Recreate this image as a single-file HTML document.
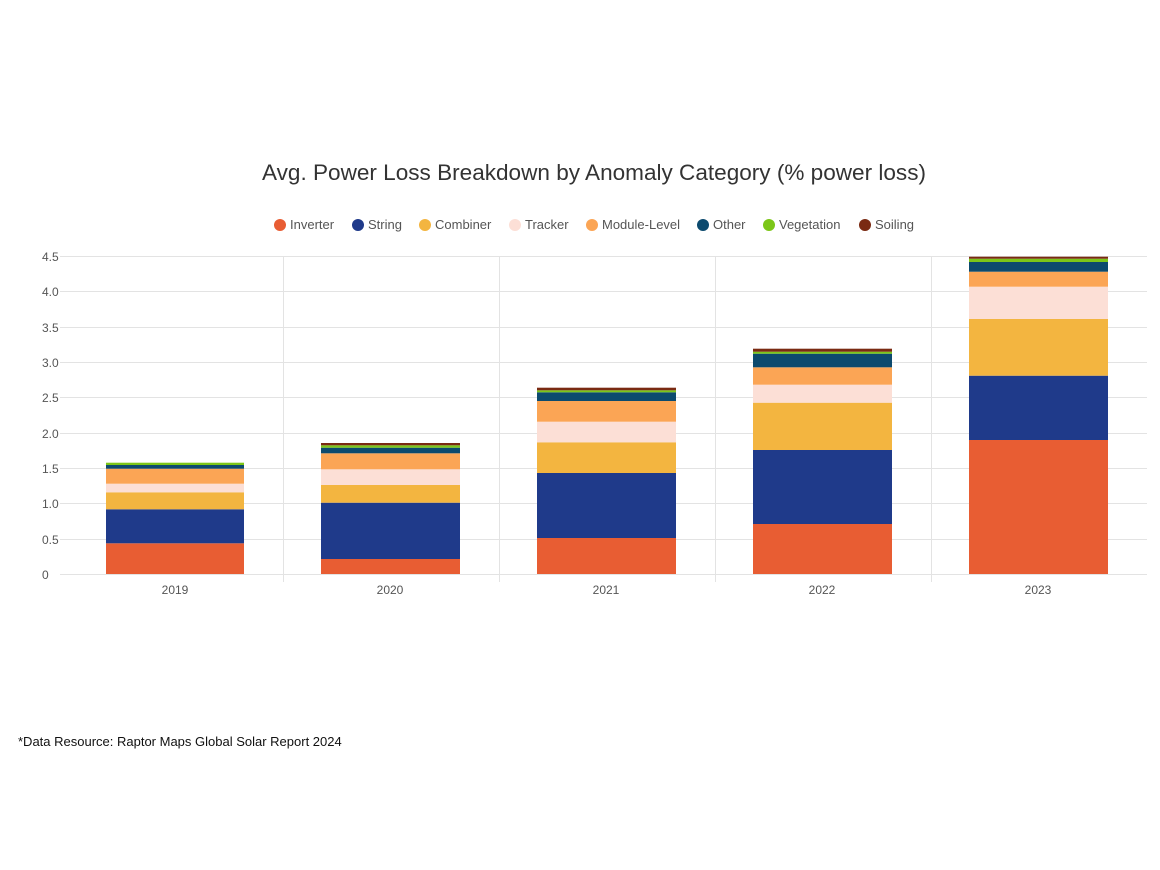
<!DOCTYPE html>
<html><head><meta charset="utf-8"><style>
html,body{margin:0;padding:0;background:#fff;}
svg{display:block;font-family:"Liberation Sans",sans-serif;}
</style></head><body>
<svg width="1160" height="870" viewBox="0 0 1160 870">
<rect width="1160" height="870" fill="#fff"/>
<text x="262" y="180" font-size="22" fill="#333" textLength="664" lengthAdjust="spacingAndGlyphs">Avg. Power Loss Breakdown by Anomaly Category (% power loss)</text>
<g font-size="13" fill="#555">
<circle cx="280" cy="225" r="6" fill="#e85d33"/><text x="290" y="229">Inverter</text>
<circle cx="358" cy="225" r="6" fill="#1f3a8a"/><text x="368" y="229">String</text>
<circle cx="425" cy="225" r="6" fill="#f3b540"/><text x="435" y="229">Combiner</text>
<circle cx="515" cy="225" r="6" fill="#fcdfd6"/><text x="525" y="229">Tracker</text>
<circle cx="592" cy="225" r="6" fill="#fba555"/><text x="602" y="229">Module-Level</text>
<circle cx="703" cy="225" r="6" fill="#0c4a6e"/><text x="713" y="229">Other</text>
<circle cx="769" cy="225" r="6" fill="#7cc618"/><text x="779" y="229">Vegetation</text>
<circle cx="865" cy="225" r="6" fill="#7a2a12"/><text x="875" y="229">Soiling</text>
</g>
<g stroke="#e3e3e3" stroke-width="1">
<line x1="60" y1="256.5" x2="1147" y2="256.5"/>
<line x1="60" y1="291.5" x2="1147" y2="291.5"/>
<line x1="60" y1="327.5" x2="1147" y2="327.5"/>
<line x1="60" y1="362.5" x2="1147" y2="362.5"/>
<line x1="60" y1="397.5" x2="1147" y2="397.5"/>
<line x1="60" y1="433.5" x2="1147" y2="433.5"/>
<line x1="60" y1="468.5" x2="1147" y2="468.5"/>
<line x1="60" y1="503.5" x2="1147" y2="503.5"/>
<line x1="60" y1="539.5" x2="1147" y2="539.5"/>
<line x1="60" y1="574.5" x2="1147" y2="574.5"/>
<line x1="283.5" y1="256" x2="283.5" y2="582"/>
<line x1="499.5" y1="256" x2="499.5" y2="582"/>
<line x1="715.5" y1="256" x2="715.5" y2="582"/>
<line x1="931.5" y1="256" x2="931.5" y2="582"/>
</g>
<g font-size="12" fill="#555">
<text x="42" y="261">4.5</text><text x="42" y="296">4.0</text><text x="42" y="332">3.5</text>
<text x="42" y="367">3.0</text><text x="42" y="402">2.5</text><text x="42" y="438">2.0</text>
<text x="42" y="473">1.5</text><text x="42" y="508">1.0</text><text x="42" y="544">0.5</text>
<text x="42" y="579">0</text>
</g>
<g font-size="12" fill="#555" text-anchor="middle">
<text x="175" y="594">2019</text><text x="390" y="594">2020</text><text x="606" y="594">2021</text><text x="822" y="594">2022</text><text x="1038" y="594">2023</text>
</g>
<!-- 2019 -->
<g>
<rect x="106" y="543.3" width="138" height="30.7" fill="#e85d33"/>
<rect x="106" y="509.3" width="138" height="34" fill="#1f3a8a"/>
<rect x="106" y="492.3" width="138" height="17" fill="#f3b540"/>
<rect x="106" y="483.7" width="138" height="8.6" fill="#fcdfd6"/>
<rect x="106" y="468.7" width="138" height="15" fill="#fba555"/>
<rect x="106" y="465" width="138" height="3.7" fill="#0c4a6e"/>
<rect x="106" y="462.7" width="138" height="2.3" fill="#7cc618"/>
</g>
<!-- 2020 -->
<g>
<rect x="321" y="559" width="139" height="15" fill="#e85d33"/>
<rect x="321" y="502.7" width="139" height="56.3" fill="#1f3a8a"/>
<rect x="321" y="485" width="139" height="17.7" fill="#f3b540"/>
<rect x="321" y="469.3" width="139" height="15.7" fill="#fcdfd6"/>
<rect x="321" y="453.3" width="139" height="16" fill="#fba555"/>
<rect x="321" y="447.7" width="139" height="5.6" fill="#0c4a6e"/>
<rect x="321" y="445.3" width="139" height="2.4" fill="#7cc618"/>
<rect x="321" y="443" width="139" height="2.3" fill="#7a2a12"/>
</g>
<!-- 2021 -->
<g>
<rect x="537" y="538" width="139" height="36" fill="#e85d33"/>
<rect x="537" y="473" width="139" height="65" fill="#1f3a8a"/>
<rect x="537" y="442.3" width="139" height="30.7" fill="#f3b540"/>
<rect x="537" y="421.7" width="139" height="20.6" fill="#fcdfd6"/>
<rect x="537" y="401" width="139" height="20.7" fill="#fba555"/>
<rect x="537" y="392.3" width="139" height="8.7" fill="#0c4a6e"/>
<rect x="537" y="390.3" width="139" height="2" fill="#7cc618"/>
<rect x="537" y="387.7" width="139" height="2.6" fill="#7a2a12"/>
</g>
<!-- 2022 -->
<g>
<rect x="753" y="524" width="139" height="50" fill="#e85d33"/>
<rect x="753" y="450" width="139" height="74" fill="#1f3a8a"/>
<rect x="753" y="402.7" width="139" height="47.3" fill="#f3b540"/>
<rect x="753" y="384.7" width="139" height="18" fill="#fcdfd6"/>
<rect x="753" y="367.3" width="139" height="17.4" fill="#fba555"/>
<rect x="753" y="353.7" width="139" height="13.6" fill="#0c4a6e"/>
<rect x="753" y="351.7" width="139" height="2" fill="#7cc618"/>
<rect x="753" y="348.7" width="139" height="3" fill="#7a2a12"/>
</g>
<!-- 2023 -->
<g>
<rect x="969" y="440" width="139" height="134" fill="#e85d33"/>
<rect x="969" y="375.7" width="139" height="64.3" fill="#1f3a8a"/>
<rect x="969" y="319" width="139" height="56.7" fill="#f3b540"/>
<rect x="969" y="286.7" width="139" height="32.3" fill="#fcdfd6"/>
<rect x="969" y="271.7" width="139" height="15" fill="#fba555"/>
<rect x="969" y="262" width="139" height="9.7" fill="#0c4a6e"/>
<rect x="969" y="258.7" width="139" height="3.3" fill="#7cc618"/>
<rect x="969" y="256.7" width="139" height="2" fill="#7a2a12"/>
</g>
<text x="18" y="746" font-size="13" fill="#111">*Data Resource: Raptor Maps Global Solar Report 2024</text>
</svg>
</body></html>
